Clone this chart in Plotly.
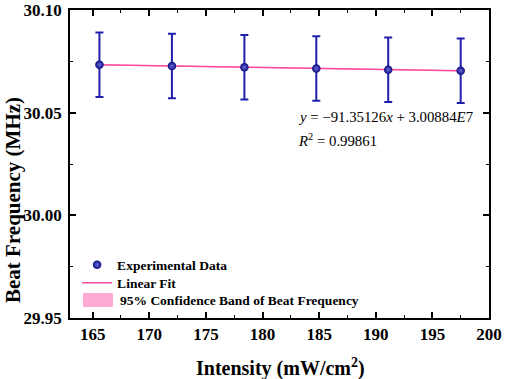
import plotly.graph_objects as go

intensity = [165.6, 172.0, 178.4, 184.75, 191.1, 197.5]
beat_freq = [30.0733, 30.0727, 30.0721, 30.0715, 30.0709, 30.0704]
err = [0.0157, 0.0157, 0.0157, 0.0157, 0.0157, 0.0157]

fit_x = [165.6, 197.5]
fit_y = [30.0733, 30.0704]
band_hi = [30.0736, 30.0707]
band_lo = [30.0730, 30.0701]

x_ticks = [165, 170, 175, 180, 185, 190, 195, 200]
y_ticks = [29.95, 30.00, 30.05, 30.10]

FONT = "Liberation Serif"
BAND = "#ffaad4"

fig = go.Figure()

fig.add_trace(go.Scatter(
    x=fit_x + fit_x[::-1], y=band_hi + band_lo[::-1],
    fill="toself", fillcolor=BAND, line=dict(width=0),
    mode="lines", name="95% Confidence Band of Beat Frequency",
    hoverinfo="skip", showlegend=False))

fig.add_trace(go.Scatter(
    x=fit_x, y=fit_y, mode="lines",
    line=dict(color="#ff4aa0", width=1.5),
    name="Linear Fit", legend="legend2"))

fig.add_trace(go.Scatter(
    x=intensity, y=beat_freq, mode="markers",
    marker=dict(size=8.5, color="#0a0a80",
                gradient=dict(type="radial", color="#6a6ad8"),
                line=dict(width=0)),
    error_y=dict(type="data", array=err, visible=True,
                 color="#2020ac", thickness=2, width=4),
    name="Experimental Data", legend="legend"))

# legend entry for confidence band (swatch + label)
fig.add_shape(type="rect", xref="paper", yref="paper",
              x0=(83 - 70) / 419, x1=(113 - 70) / 419,
              y0=(318 - 307) / 308, y1=(318 - 293) / 308,
              fillcolor=BAND, line=dict(width=0), layer="above")
fig.add_annotation(xref="paper", yref="paper",
                   x=(118 - 70) / 419, y=(318 - 300) / 308,
                   xanchor="left", yanchor="middle", showarrow=False,
                   text="<b>95% Confidence Band of Beat Frequency</b>",
                   font=dict(family=FONT, size=13.5, color="black"))

fig.add_annotation(
    xref="paper", yref="paper", x=(296 - 70) / 419, y=(318 - 117) / 308,
    xanchor="left", yanchor="middle",
    text="<i>y</i> = −91.35126<i>x</i> + 3.00884<i>E</i>7",
    showarrow=False, font=dict(family=FONT, size=14.8, color="black"))
fig.add_annotation(
    xref="paper", yref="paper", x=(296 - 70) / 419, y=(318 - 140) / 308,
    xanchor="left", yanchor="middle",
    text="<i>R</i><sup>2</sup> = 0.99861",
    showarrow=False, font=dict(family=FONT, size=14.8, color="black"))

# axis titles
fig.add_annotation(
    xref="paper", yref="paper", x=(280 - 70) / 419, y=(318 - 367) / 308,
    xanchor="center", yanchor="middle", showarrow=False,
    text="<b>Intensity (mW/cm<sup>2</sup>)</b>",
    font=dict(family=FONT, size=20, color="black"))
fig.add_annotation(
    xref="paper", yref="paper", x=(13 - 70) / 419, y=(318 - 200) / 308,
    xanchor="center", yanchor="middle", showarrow=False, textangle=-90,
    text="<b>Beat Frequency (MHz)</b>",
    font=dict(family=FONT, size=21, color="black"))

axis_common = dict(
    showline=True, linecolor="black", linewidth=1.5, mirror="allticks",
    ticks="inside", ticklen=6, tickwidth=1.5, tickcolor="black",
    showgrid=False, zeroline=False, automargin=False,
    ticklabeloverflow="allow",
    tickfont=dict(family=FONT, size=17, color="black", weight="bold"),
)

fig.update_xaxes(
    range=[163, 200], tickvals=x_ticks,
    minor=dict(ticks="inside", ticklen=3, tickwidth=1.2, tickcolor="black", dtick=2.5, tick0=162.5),
    **axis_common)
fig.update_yaxes(
    range=[29.95, 30.10], tickvals=y_ticks, tickformat=".2f",
    ticklabelstandoff=3,
    minor=dict(ticks="inside", ticklen=3, tickwidth=1.2, tickcolor="black", dtick=0.025, tick0=29.95),
    **axis_common)

leg_common = dict(xanchor="left", yanchor="middle", x=0.017,
                  bgcolor="rgba(0,0,0,0)", itemwidth=30,
                  font=dict(family=FONT, size=13.5, color="black", weight="bold"))

fig.update_layout(
    width=505, height=379,
    margin=dict(l=70, r=16, t=10, b=61, autoexpand=False),
    plot_bgcolor="white", paper_bgcolor="white",
    font=dict(family=FONT, size=17, color="black"),
    legend=dict(y=(318 - 265) / 308, **leg_common),
    legend2=dict(y=(318 - 283) / 308, **leg_common),
    showlegend=True,
)

fig.write_html("out.html", config={"displayModeBar": False},
               post_script="document.body.style.margin='0';document.body.style.overflow='hidden';")
